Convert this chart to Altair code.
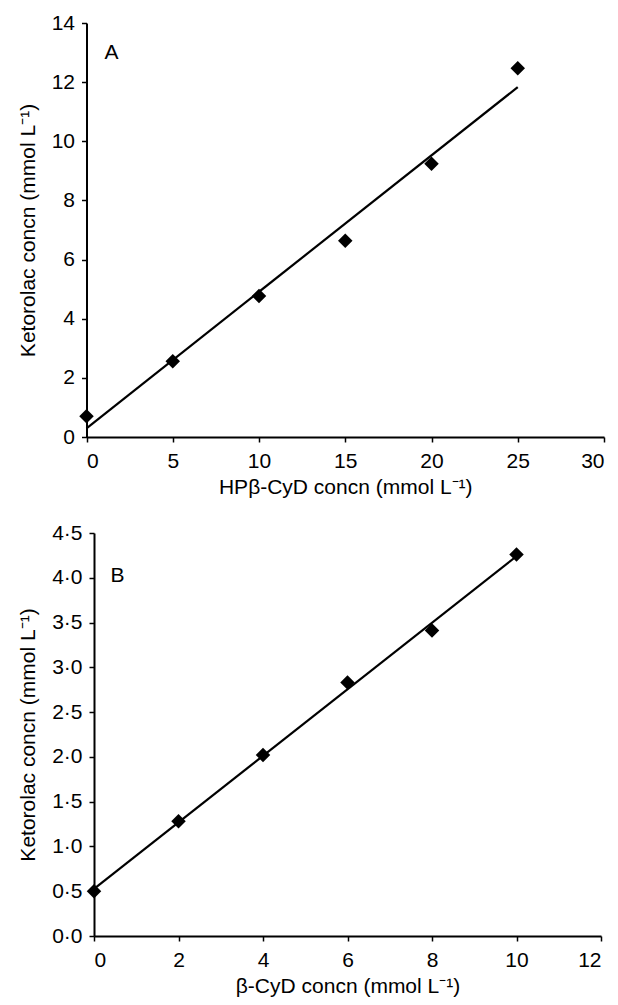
import altair as alt
import pandas as pd

# Panel A: ketorolac solubility vs HPβ-CyD concentration
hp_conc = [0, 5, 10, 15, 20, 25]
keto_hp = [0.70, 2.56, 4.77, 6.64, 9.24, 12.47]

# Panel B: ketorolac solubility vs β-CyD concentration
b_conc = [0, 2, 4, 6, 8, 10]
keto_b = [0.50, 1.28, 2.02, 2.83, 3.41, 4.26]

x_ticks_a = [0, 5, 10, 15, 20, 25, 30]
y_ticks_a = [0, 2, 4, 6, 8, 10, 12, 14]
x_ticks_b = [0, 2, 4, 6, 8, 10, 12]
y_ticks_b = [0, 0.5, 1.0, 1.5, 2.0, 2.5, 3.0, 3.5, 4.0, 4.5]

Y_TITLE = "Ketorolac concn (mmol L⁻¹)"
FONT = "Liberation Sans"
FS = 21


def panel(xs, ys, xticks, yticks, xtitle, tag, w, h, ylabel_expr=None,
          tag_pos=(25, 30), shift=0.0):
    """One scatter + least-squares line panel.

    `shift` moves the panel's own axes left of the shared concat origin so that
    its narrower y labels keep the y-axis title flush with the other panel's.
    """
    df = pd.DataFrame({"conc": xs, "keto": ys})
    yaxis_kw = dict(values=yticks, title=Y_TITLE)
    if ylabel_expr:
        yaxis_kw["labelExpr"] = ylabel_expr
    x_scale = alt.Scale(domain=[xticks[0], xticks[-1]], nice=False)
    if shift:
        x_scale = alt.Scale(domain=[xticks[0], xticks[-1]], nice=False, range=[-shift, w])
    x = alt.X(
        "conc:Q",
        scale=x_scale,
        axis=alt.Axis(values=xticks, title=xtitle, labelPadding=8, titlePadding=5),
    )
    y = alt.Y(
        "keto:Q",
        scale=alt.Scale(domain=[yticks[0], yticks[-1]], nice=False),
        axis=alt.Axis(labelPadding=7, titlePadding=13, offset=shift, **yaxis_kw),
    )
    fit = (
        alt.Chart(df)
        .transform_regression("conc", "keto")
        .mark_line(color="black", strokeWidth=2.2)
        .encode(x=x, y=y)
    )
    pts = (
        alt.Chart(df)
        .mark_point(shape="diamond", filled=True, size=210, color="black", opacity=1)
        .encode(x=x, y=y)
    )
    label = (
        alt.Chart(pd.DataFrame({"tag": [tag]}))
        .mark_text(font=FONT, fontSize=FS, color="black", align="center", baseline="middle")
        .encode(text="tag:N", x=alt.value(tag_pos[0]), y=alt.value(tag_pos[1]))
    )
    return alt.layer(fit, pts, label).properties(width=w, height=h)


top = panel(
    hp_conc, keto_hp, x_ticks_a, y_ticks_a, "HPβ-CyD concn (mmol L⁻¹)", "A",
    510, 414, tag_pos=(17.5, 30), shift=7.5,
)
bottom = panel(
    b_conc, keto_b, x_ticks_b, y_ticks_b, "β-CyD concn (mmol L⁻¹)", "B", 507, 403,
    ylabel_expr="replace(format(datum.value, '.1f'), '.', '·')", tag_pos=(23.5, 43),
)

chart = (
    alt.vconcat(top, bottom, spacing=25)
    .properties(padding={"left": 17, "top": 12, "right": 2, "bottom": 4}, background="white")
    .configure_view(stroke=None)
    .configure_axis(
        grid=False,
        domainColor="black",
        domainWidth=2,
        tickColor="black",
        tickWidth=1.5,
        tickSize=5,
        labelFont=FONT,
        titleFont=FONT,
        labelFontSize=FS,
        titleFontSize=FS,
        labelColor="black",
        titleColor="black",
        titleFontWeight="normal",
    )
)

chart.save("out.html", embed_options={"renderer": "svg", "actions": False})
